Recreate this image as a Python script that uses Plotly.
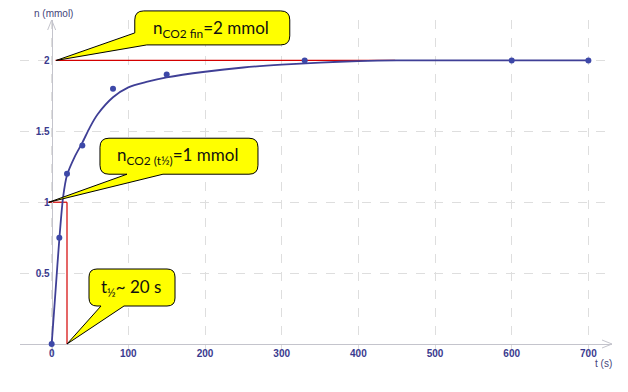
import plotly.graph_objects as go

# measured points
t_points = [0, 10, 20, 40, 80, 150, 330, 600, 700]
n_points = [0, 0.75, 1.2, 1.4, 1.8, 1.9, 2.0, 2.0, 2.0]

# fitted curve
t_curve = [0, 5, 10, 15, 20, 30, 40, 50, 60, 80, 100, 125, 150, 200, 250, 300, 350, 400, 450, 500, 600, 700]
n_curve = [0, 0.37, 0.74, 1.04, 1.19, 1.32, 1.42, 1.53, 1.62, 1.74, 1.81, 1.85, 1.88, 1.92, 1.95, 1.97, 1.985, 1.995, 2.0, 2.0, 2.0, 2.0]

x_ticks = [0, 100, 200, 300, 400, 500, 600, 700]
y_ticks = [0.5, 1, 1.5, 2]
y_tick_text = ["0.5", "1", "1.5", "2"]

n_final = 2.0
n_half = 1.0
t_half = 20
t_final_line_end = 448

x_range = [-41.3, 730.8]
y_range = [-0.0775, 2.285]

blue = "#3f3f96"
red = "#d40000"
axis_col = "#c4c4cc"
tick_col = "#3a3a8e"


def to_paper_x(t):
    return (t - x_range[0]) / (x_range[1] - x_range[0])


def to_paper_y(n):
    return (n - y_range[0]) / (y_range[1] - y_range[0])


fig = go.Figure()

fig.add_trace(go.Scatter(x=t_curve, y=n_curve, mode="lines",
                         line=dict(color=blue, width=1.8, shape="spline", smoothing=0.8),
                         hoverinfo="skip", showlegend=False, cliponaxis=False))
fig.add_trace(go.Scatter(x=t_points, y=n_points, mode="markers", marker=dict(color="#3d48a8", size=6),
                         showlegend=False, cliponaxis=False))

# red guide lines
fig.add_shape(type="line", x0=5, x1=t_final_line_end, y0=n_final, y1=n_final, line=dict(color=red, width=1.2), layer="between")
fig.add_shape(type="line", x0=-5, x1=t_half, y0=n_half, y1=n_half, line=dict(color=red, width=1.2), layer="between")
fig.add_shape(type="line", x0=t_half, x1=t_half, y0=n_half, y1=0, line=dict(color=red, width=1.2), layer="between")


def callout_path_bottom(bx0, bx1, byb, byt, ax, bxw, r=8):
    # wedge base on bottom edge from ax to bxw; tip at (0,0); y positive up
    p = f"M 0,0 L {bxw},{byb} L {bx1 - r},{byb} Q {bx1},{byb} {bx1},{byb + r} "
    p += f"L {bx1},{byt - r} Q {bx1},{byt} {bx1 - r},{byt} L {bx0 + r},{byt} Q {bx0},{byt} {bx0},{byt - r} "
    p += f"L {bx0},{byb + r} Q {bx0},{byb} {bx0 + r},{byb} L {ax},{byb} Z"
    return p


def callout_path_corner(bx0, bx1, byb, byt, ay_left, bx_bottom, r=8):
    # wedge base from left edge (ay_left) to bottom edge (bx_bottom)
    p = f"M 0,0 L {bx_bottom},{byb} L {bx1 - r},{byb} Q {bx1},{byb} {bx1},{byb + r} "
    p += f"L {bx1},{byt - r} Q {bx1},{byt} {bx1 - r},{byt} L {bx0 + r},{byt} Q {bx0},{byt} {bx0},{byt - r} "
    p += f"L {bx0},{ay_left} Z"
    return p


# callout tips given in data units; paper refs so the boxes are not clipped by the plot area
callouts = [
    dict(tip=(6, n_final), path=callout_path_corner(78.5, 233.5, 15.5, 49.5, 27.5, 90.5, 9),
         text="n<sub>CO2 fin</sub>=2 mmol", shift=(155, 31)),
    dict(tip=(-3.5, n_half), path=callout_path_bottom(51, 209, 28, 64, 78, 114, 9),
         text="n<sub>CO2 (t½)</sub>=1 mmol", shift=(129, 46)),
    dict(tip=(t_half, 0), path=callout_path_bottom(22, 108, 38, 75, 34, 57, 8),
         text="t<sub>½</sub>~ 20 s", shift=(64, 56)),
]

for c in callouts:
    px = to_paper_x(c["tip"][0])
    py = to_paper_y(c["tip"][1])
    fig.add_shape(type="path", xref="paper", yref="paper", xsizemode="pixel", ysizemode="pixel",
                  xanchor=px, yanchor=py, path=c["path"],
                  fillcolor="#ffff00", line=dict(color="#000000", width=1), layer="above")
    fig.add_annotation(x=px, y=py, xref="paper", yref="paper", text=c["text"], showarrow=False,
                       xanchor="center", yanchor="middle",
                       xshift=c["shift"][0], yshift=c["shift"][1],
                       font=dict(family="Lato, Open Sans, sans-serif", size=17, color="#111111"))

# axis arrowheads
fig.add_shape(type="path", xref="paper", yref="y", xsizemode="pixel", ysizemode="pixel",
              xanchor=1, yanchor=0, path="M -10,4 L 0,0 L -10,-4", line=dict(color=axis_col, width=1))
fig.add_shape(type="path", xref="x", yref="paper", xsizemode="pixel", ysizemode="pixel",
              xanchor=0, yanchor=1, path="M -4,-10 L 0,0 L 4,-10", line=dict(color=axis_col, width=1))

# axis titles
fig.add_annotation(x=0, y=1, xref="x", yref="paper", text="n (mmol)", showarrow=False, xshift=2, yshift=7,
                   xanchor="center", yanchor="middle", font=dict(family="Arial", size=10, color="#45457a"))
fig.add_annotation(x=1, y=0, xref="paper", yref="y", text="t (s)", showarrow=False, xshift=-9, yshift=-19,
                   xanchor="center", yanchor="middle", font=dict(family="Arial", size=10, color="#45457a"))

# the page body has an 8px margin: size and margins compensate so the plot lands where the reference has it
fig.update_layout(
    width=620, height=384,
    margin=dict(l=12, r=16, t=12, b=37),
    paper_bgcolor="white", plot_bgcolor="white",
    xaxis=dict(range=x_range, tickvals=x_ticks, ticktext=[str(v) for v in x_ticks],
               anchor="free", position=to_paper_y(0), showline=True, linecolor=axis_col, linewidth=1,
               showgrid=True, gridcolor="#dedede", griddash="dash", gridwidth=1, zeroline=False,
               ticks="", automargin=False, layer="below traces",
               tickfont=dict(family="Arial", size=10, color=tick_col, weight="bold")),
    yaxis=dict(range=y_range, tickvals=y_ticks, ticktext=y_tick_text,
               anchor="free", position=to_paper_x(0), showline=True, linecolor=axis_col, linewidth=1,
               showgrid=True, gridcolor="#dedede", griddash="dash", gridwidth=1, zeroline=False,
               ticks="", automargin=False, layer="below traces",
               tickfont=dict(family="Arial", size=10, color=tick_col, weight="bold")),
)

fig.write_html("out.html")
